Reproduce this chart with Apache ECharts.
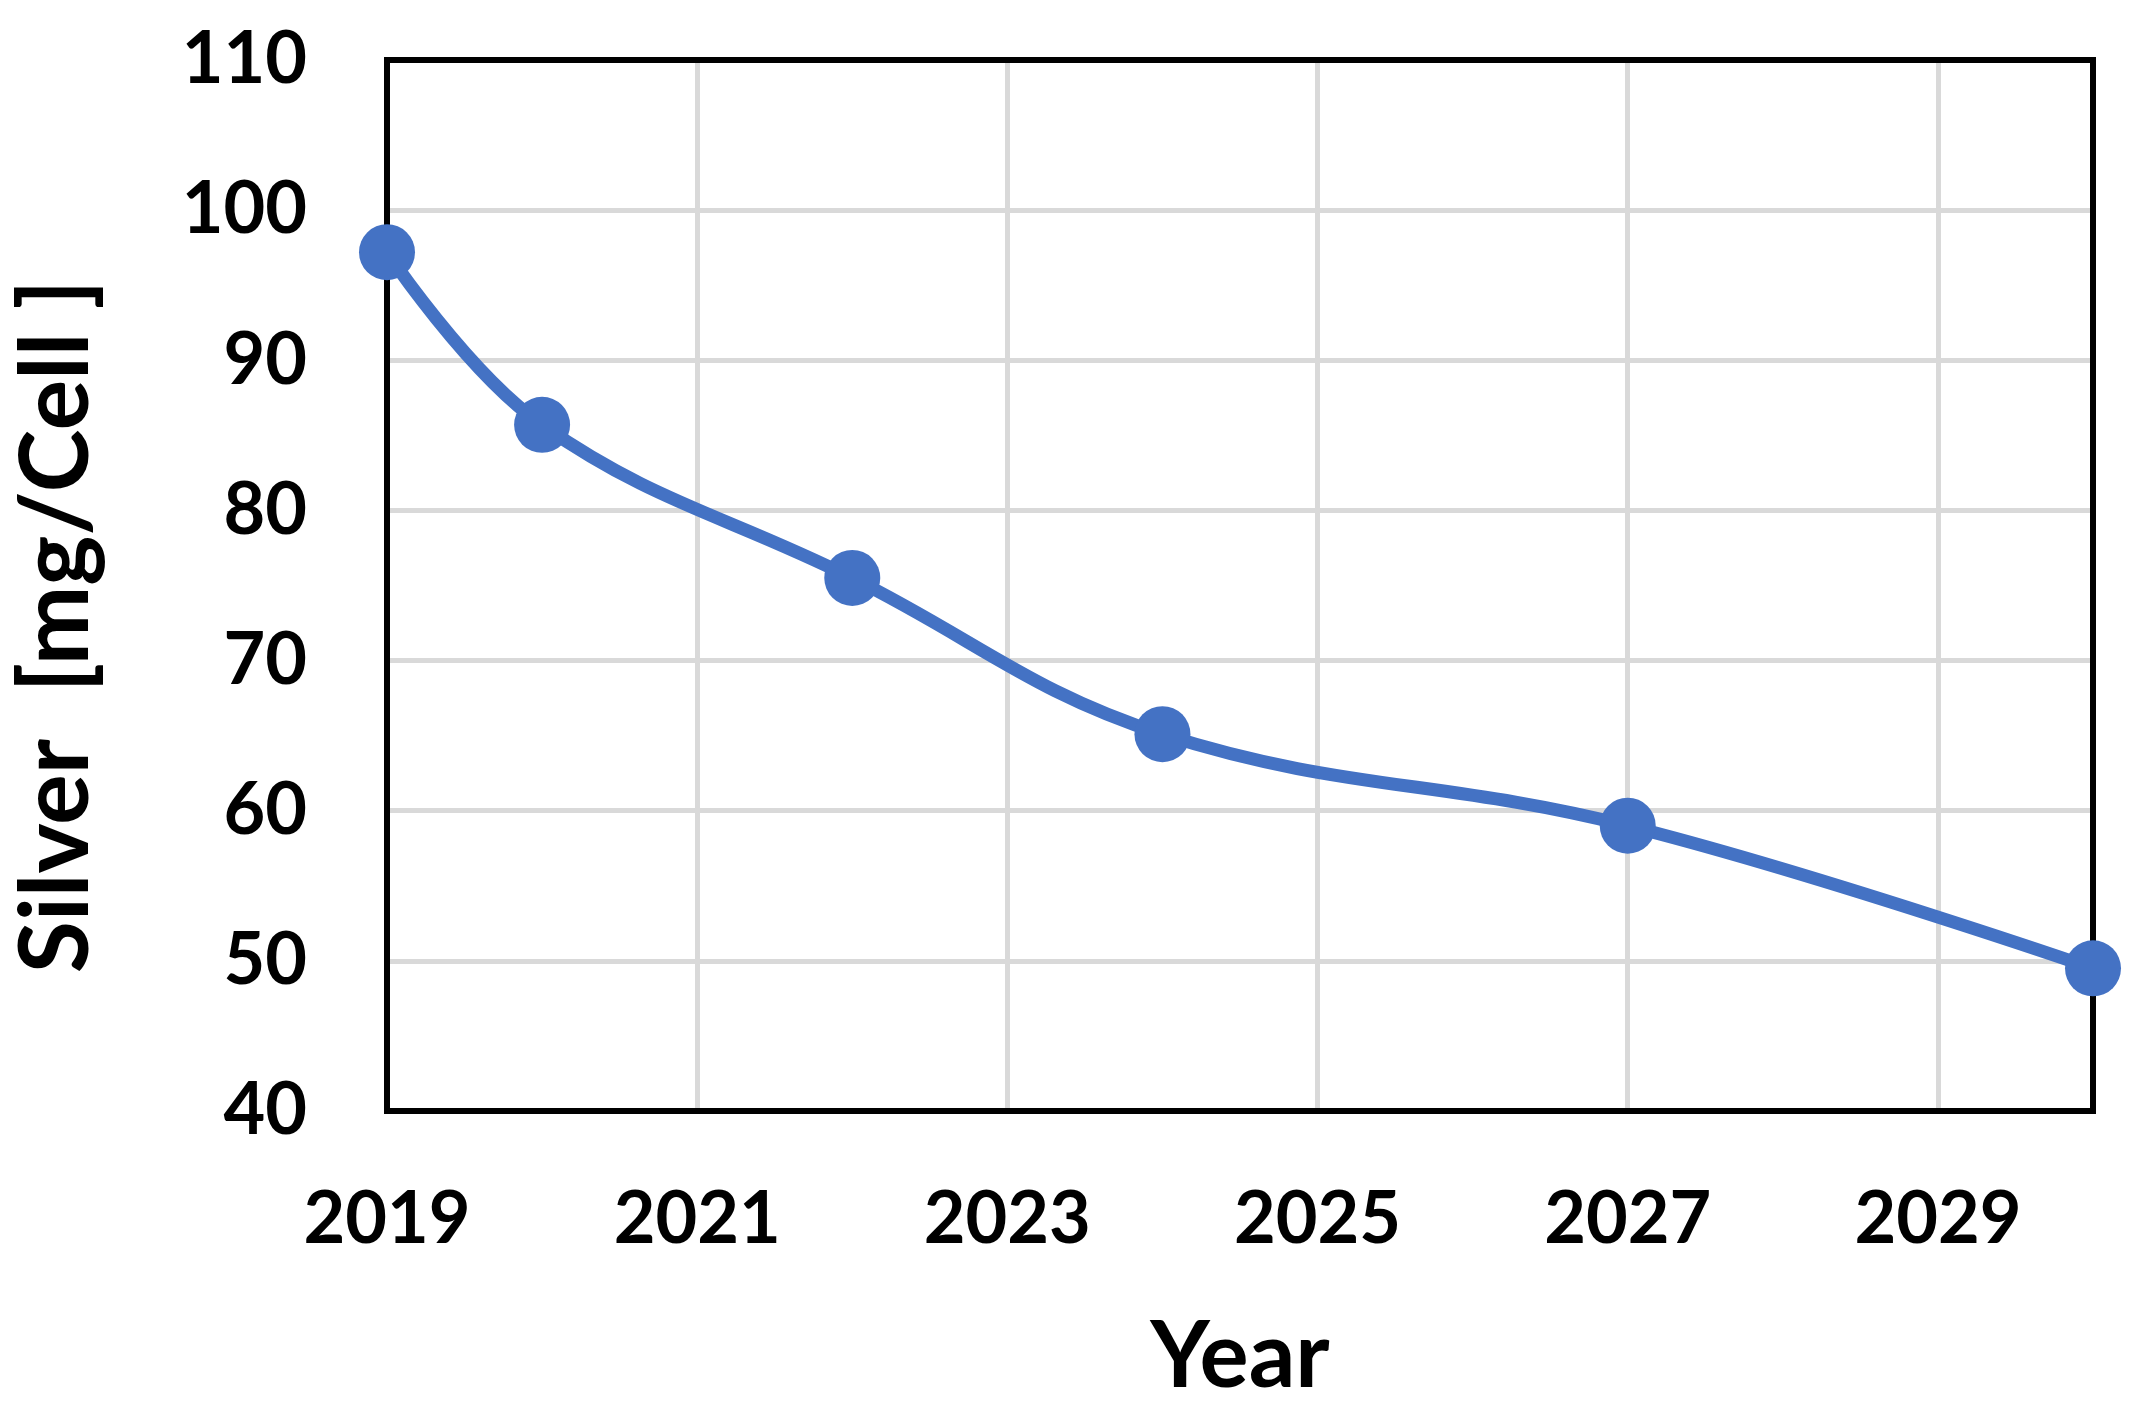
<!DOCTYPE html>
<html>
<head>
<meta charset="utf-8">
<script src="https://cdn.jsdelivr.net/npm/echarts@6/dist/echarts.min.js"></script>
<style>
html,body{margin:0;padding:0;background:#fff;}
#chart{width:2138px;height:1420px;}
</style>
</head>
<body>
<div id="chart"></div>
<script>
const years = [2019, 2020, 2022, 2024, 2027, 2030];
const silver = [97.2, 85.7, 75.5, 65.1, 59.0, 49.5];
const xTicks = [2019, 2021, 2023, 2025, 2027, 2029];
const yTicks = [40, 50, 60, 70, 80, 90, 100, 110];
const xTitle = 'Year';
const yTitle = 'Silver  [mg/Cell ]';

const FONT = 'Lato';
const chart = echarts.init(document.getElementById('chart'), null, {renderer: 'canvas'});
chart.setOption({
  backgroundColor: '#ffffff',
  animation: false,
  grid: {
    left: 387, right: 45, top: 60, bottom: 309,
    show: true, borderColor: '#000000', borderWidth: 6, backgroundColor: 'transparent', z: 3
  },
  xAxis: {
    type: 'value',
    min: xTicks[0], max: years[years.length - 1], interval: 2,
    name: xTitle, nameLocation: 'middle', nameGap: 200,
    nameTextStyle: {fontFamily: FONT, fontWeight: 'bold', fontSize: 92, color: '#000'},
    axisLine: {show: false},
    axisTick: {show: false},
    axisLabel: {
      show: true, margin: 73, showMaxLabel: false,
      fontFamily: FONT, fontWeight: 'bold', fontSize: 72, color: '#000',
      formatter: v => (xTicks.indexOf(v) >= 0 ? String(v) : '')
    },
    splitLine: {show: true, showMinLine: false, showMaxLine: false, lineStyle: {color: '#d9d9d9', width: 5}}
  },
  yAxis: {
    type: 'value',
    min: yTicks[0], max: yTicks[yTicks.length - 1], interval: 10,
    name: yTitle, nameLocation: 'middle', nameGap: 282,
    nameTextStyle: {fontFamily: FONT, fontWeight: 'bold', fontSize: 95, color: '#000', padding: [0, 82, 0, 0]},
    axisLine: {show: false},
    axisTick: {show: false},
    axisLabel: {
      margin: 80, fontFamily: FONT, fontWeight: 'bold', fontSize: 72, color: '#000',
      formatter: v => String(v)
    },
    splitLine: {show: true, showMinLine: false, showMaxLine: false, lineStyle: {color: '#d9d9d9', width: 5}}
  },
  series: [{
    type: 'line',
    data: years.map((y, i) => [y, silver[i]]),
    smooth: 0.4,
    clip: false,
    symbol: 'circle',
    symbolSize: 56,
    lineStyle: {color: '#4472C4', width: 13},
    itemStyle: {color: '#4472C4'},
    z: 5
  }]
});
</script>
</body>
</html>
